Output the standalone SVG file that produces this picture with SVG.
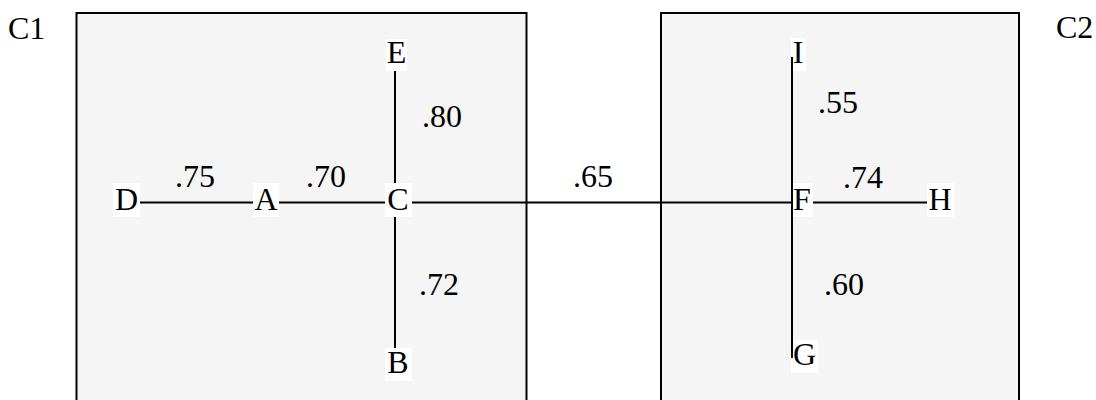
<svg xmlns="http://www.w3.org/2000/svg" width="1096" height="400" viewBox="0 0 1096 400">
<style>
text{font-family:"Liberation Serif","Times New Roman",serif;font-size:32px;fill:#000}
.lab{text-anchor:middle}
.bg{fill:#fff}
.cl{fill:#f5f5f5;stroke:#000;stroke-width:2}
.e{stroke:#000;stroke-width:2;fill:none}
</style>
<rect width="1096" height="400" fill="#fff"/>
<g id="cluster-C1">
<rect class="cl" x="76.5" y="13" width="450" height="400"/>
<text x="8" y="39">C1</text>
</g>
<g id="cluster-C2">
<rect class="cl" x="661" y="13" width="358" height="400"/>
<text x="1056" y="38">C2</text>
</g>
<g id="edges">
<line class="e" x1="140" y1="202.5" x2="253" y2="202.5"/>
<line class="e" x1="279" y1="202.5" x2="385" y2="202.5"/>
<line class="e" x1="395" y1="70" x2="395" y2="184"/>
<line class="e" x1="395" y1="216" x2="395" y2="348"/>
<line class="e" x1="411" y1="202.5" x2="791" y2="202.5"/>
<line class="e" x1="812" y1="202.5" x2="927" y2="202.5"/>
<text x="175" y="187">.75</text>
<text x="306" y="187">.70</text>
<text x="422" y="127">.80</text>
<text x="419" y="295">.72</text>
<text x="573" y="187">.65</text>
<text x="818" y="113">.55</text>
<text x="843" y="188">.74</text>
<text x="824" y="295">.60</text>
</g>
<g id="node-D"><rect class="bg" x="113" y="183" width="27" height="34"/><text class="lab" x="126.5" y="210">D</text></g>
<g id="node-A"><rect class="bg" x="253" y="183" width="26" height="34"/><text class="lab" x="266" y="210">A</text></g>
<g id="node-C"><rect class="bg" x="385" y="183" width="27" height="34"/><text class="lab" x="398" y="210">C</text></g>
<g id="node-E"><rect class="bg" x="386" y="39" width="21" height="32"/><text class="lab" x="396.5" y="63">E</text></g>
<g id="node-B"><rect class="bg" x="385" y="348" width="27" height="33"/><text class="lab" x="398" y="373">B</text></g>
<g id="node-I"><rect class="bg" x="791" y="38" width="15" height="33"/><text class="lab" x="798" y="63">I</text></g>
<g id="node-F"><rect class="bg" x="791" y="183" width="22" height="34"/><text class="lab" x="802" y="210">F</text></g>
<g id="node-H"><rect class="bg" x="927" y="183" width="27" height="34"/><text class="lab" x="940" y="210">H</text></g>
<g id="node-G"><rect class="bg" x="791" y="340" width="27" height="33"/><text class="lab" x="804.5" y="365">G</text></g>
<g id="edges-IG">
<line class="e" x1="792" y1="57" x2="792" y2="358"/>
</g>
</svg>
